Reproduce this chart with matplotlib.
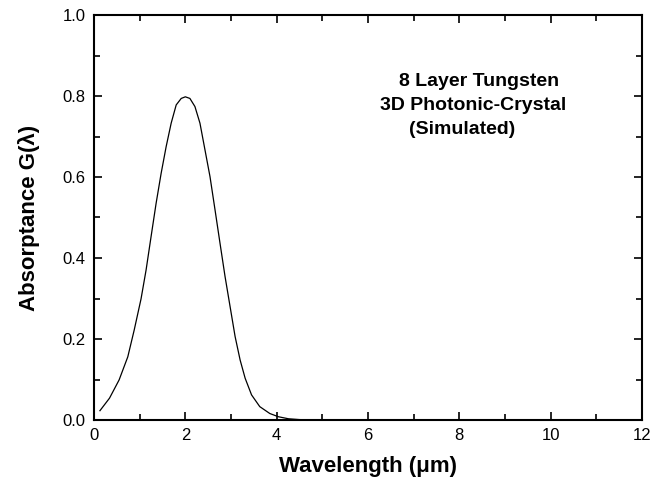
import matplotlib
matplotlib.use("Agg")
import matplotlib.pyplot as plt
from matplotlib.ticker import MultipleLocator, FormatStrFormatter

# simulated absorptance of the 8 layer tungsten photonic crystal
wavelength = [0.13, 0.34, 0.55, 0.74, 0.88, 1.03, 1.14, 1.25, 1.36, 1.47, 1.58,
              1.69, 1.80, 1.91, 2.00, 2.10, 2.21, 2.32, 2.43, 2.54, 2.65, 2.76,
              2.87, 2.98, 3.09, 3.20, 3.31, 3.45, 3.63, 3.85, 4.04, 4.26, 4.50,
              4.80]
absorptance = [0.023, 0.054, 0.099, 0.156, 0.222, 0.299, 0.370, 0.453, 0.535,
               0.609, 0.675, 0.733, 0.778, 0.794, 0.798, 0.794, 0.774, 0.733,
               0.667, 0.601, 0.519, 0.436, 0.354, 0.280, 0.206, 0.148, 0.103,
               0.062, 0.033, 0.016, 0.008, 0.003, 0.001, 0.0]

# text block in the upper right, one line at a time
note_lines = ["8 Layer Tungsten", "3D Photonic-Crystal", "(Simulated)"]
note_x = [399, 380, 409]
note_y = [81.5, 105.5, 130]

plt.rcParams['font.family'] = ['Liberation Sans', 'DejaVu Sans']

W, H = 654, 488
fig = plt.figure(figsize=(W / 100, H / 100), dpi=100)
ax = fig.add_axes([94 / W, (H - 420) / H, 548 / W, 405 / H])

ax.plot(wavelength, absorptance, color="black", linewidth=0.9)

ax.set_xlim(0, 12)
ax.set_ylim(0, 1.0)
ax.xaxis.set_major_locator(MultipleLocator(2))
ax.xaxis.set_minor_locator(MultipleLocator(1))
ax.yaxis.set_major_locator(MultipleLocator(0.2))
ax.yaxis.set_minor_locator(MultipleLocator(0.1))
ax.xaxis.set_major_formatter(FormatStrFormatter('%d'))
ax.yaxis.set_major_formatter(FormatStrFormatter('%.1f'))

# ticks point inward on all four sides
ax.tick_params(which="both", direction="in", top=True, right=True,
               width=1.2, labelsize=12, pad=6)
ax.tick_params(which="major", length=6)
ax.tick_params(which="minor", length=4)
for s in ax.spines.values():
    s.set_linewidth(1.5)

ax.set_xlabel("Wavelength (μm)", fontsize=16, fontweight="bold", labelpad=9)
ax.set_ylabel("Absorptance G(λ)", fontsize=16, fontweight="bold", labelpad=16)

for line, x, y in zip(note_lines, note_x, note_y):
    fig.text(x / W, 1 - y / H, line, ha="left", va="center", fontsize=14,
             fontweight="bold")

fig.savefig("out.png", dpi=100)
